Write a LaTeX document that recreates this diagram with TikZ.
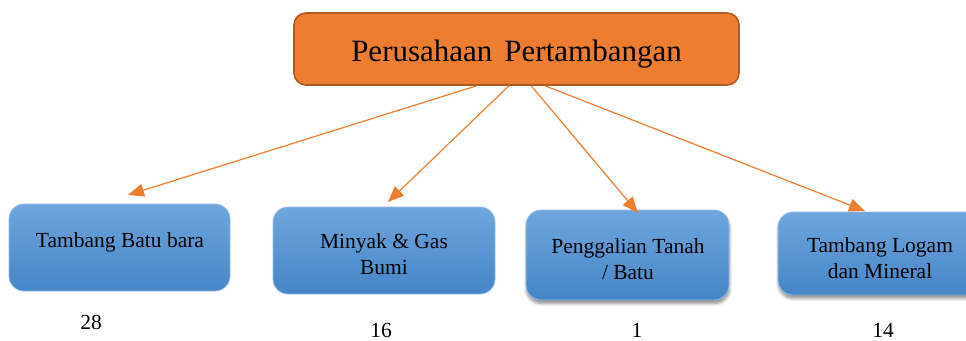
\documentclass[tikz,border=0pt]{standalone}
\usepackage{fontspec}
\setmainfont{Liberation Serif}
\usetikzlibrary{arrows.meta,calc,shadows.blur}
\definecolor{orfill}{HTML}{ED7D31}
\definecolor{ordraw}{HTML}{B05B22}
\definecolor{bltop}{HTML}{6EA6DD}
\definecolor{blbot}{HTML}{4585C7}
\definecolor{bldraw}{HTML}{93BCE6}
\tikzset{
  topbox/.style={draw=ordraw, line width=1.6pt, fill=orfill, rounded corners=12pt, inner sep=0pt},
  bluebox/.style={draw=bldraw, line width=0.8pt, top color=bltop, bottom color=blbot, rounded corners=15pt, inner sep=0pt},
  shadowed/.style={blur shadow={shadow blur steps=6, shadow xshift=0.5pt, shadow yshift=-3.5pt, shadow opacity=45, shadow blur radius=3pt}},
  boxtext/.style={font=\fontsize{21.5pt}{26pt}\selectfont, align=center, inner sep=0pt, text=black},
  numtext/.style={font=\fontsize{21.5pt}{26pt}\selectfont, inner sep=0pt, text=black},
  conn/.style={draw=orfill, line width=1.2pt, -{Triangle[length=16pt,width=13pt]}}
}
\begin{document}
\begin{tikzpicture}[x=1pt,y=-1pt]
\useasboundingbox (0,0) rectangle (966,340);
% top box
\node[topbox, minimum width=445pt, minimum height=72pt] (top) at (516.5,49) {};
\node[font=\fontsize{31pt}{36pt}\selectfont, inner sep=0pt] (toptext) at (516.5,53.8) {Perusahaan\hspace{12pt}Pertambangan};
% blue boxes
\node[bluebox, minimum width=221pt, minimum height=87pt] (b1) at (119.5,247.5) {};
\node[bluebox, minimum width=222pt, minimum height=87pt] (b2) at (384,250.5) {};
\node[bluebox, shadowed, minimum width=203pt, minimum height=90pt] (b3) at (627.5,255) {};
\node[bluebox, shadowed, minimum width=204pt, minimum height=83pt] (b4) at (880,253.5) {};
\node[boxtext] (b1t) at (120,242) {Tambang Batu bara};
\node[boxtext] (b2t) at (384,254) {Minyak \& Gas\\Bumi};
\node[boxtext] (b3t) at (628,259) {Penggalian Tanah\\/ Batu};
\node[boxtext] (b4t) at (880,258) {Tambang Logam\\dan Mineral};
% numbers
\node[numtext] (n1) at (91,322.5) {28};
\node[numtext] (n2) at (381,330) {16};
\node[numtext] (n3) at (637,330) {1};
\node[numtext] (n4) at (883,330) {14};
% connectors
\coordinate (s1) at ($(top.south west)!0.411!(top.south east)$);
\coordinate (s2) at ($(top.south west)!0.483!(top.south east)$);
\coordinate (s3) at ($(top.south west)!0.533!(top.south east)$);
\coordinate (s4) at ($(top.south west)!0.564!(top.south east)$);
\coordinate (t1) at (128,195);
\coordinate (t2) at (388,202);
\coordinate (t3) at (638,213);
\coordinate (t4) at (865,211);
\draw[conn] (s1) -- (t1);
\draw[conn] (s2) -- (t2);
\draw[conn] (s3) -- (t3);
\draw[conn] (s4) -- (t4);
\end{tikzpicture}
\end{document}
